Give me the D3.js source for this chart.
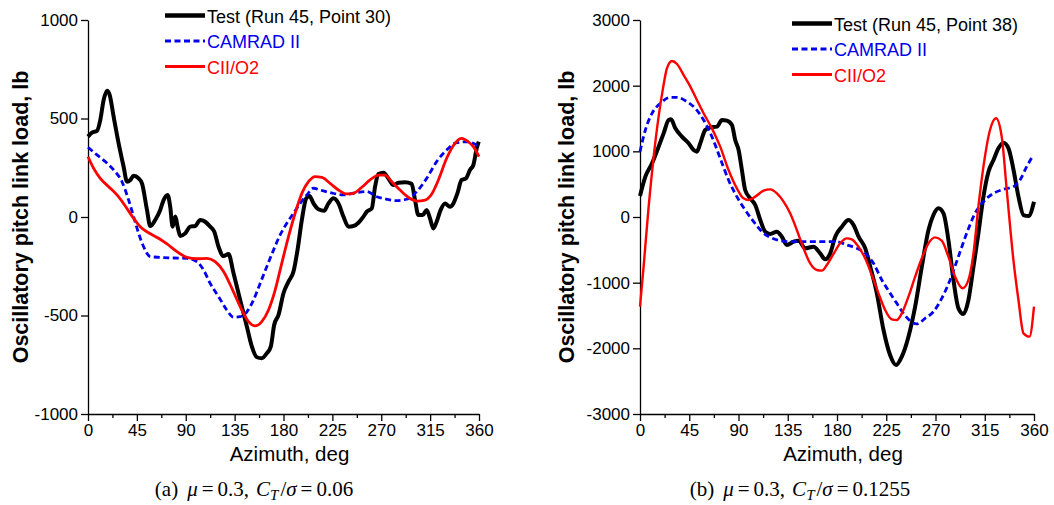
<!DOCTYPE html>
<html>
<head>
<meta charset="utf-8">
<script src="https://cdn.jsdelivr.net/npm/d3@7"></script>
<style>
  body { margin: 0; background: #fff; }
  svg { display: block; }
</style>
</head>
<body>
<div id="chart"></div>
<script>
// azimuth ticks shared by both panels
const azTicks = [0, 45, 90, 135, 180, 225, 270, 315, 360];

// panel (a): mu = 0.3, CT/sigma = 0.06  -- [azimuth, load]
const testA = [[0,408],[3.7,428],[8.3,437],[11.3,492],[14.4,594],[17.5,641],[20,619],[23.6,509],[28.2,374],[32.8,255],[35.9,179],[39,188],[42,210],[46.6,196],[49.7,171],[54.3,36],[57.3,-46],[61.9,-15],[66.5,36],[69.6,86],[73.3,112],[75.7,52],[77.9,-49],[80.4,2],[82.5,-49],[84.9,-96],[89.5,-83],[94.1,-49],[98.7,-46],[103.3,-15],[107.9,-24],[112.5,-49],[116.2,-74],[120.2,-151],[124.8,-198],[129.4,-188],[134,-286],[140.1,-421],[146.3,-557],[150.9,-658],[155.5,-712],[160,-717],[164.6,-692],[168.3,-658],[171.4,-548],[175.4,-497],[180,-387],[184.6,-328],[189.2,-277],[192.9,-168],[196.9,-15],[200.9,95],[203.9,107],[207.6,69],[212.2,39],[217.4,32],[221.4,69],[226,95],[230.6,69],[235.2,2],[239.8,-49],[244.4,-46],[249,-29],[253.6,2],[256.7,27],[261.3,44],[264.3,154],[267.4,218],[272,225],[276.6,196],[281.2,162],[285.8,174],[291.9,176],[298,168],[301.1,86],[304.2,10],[308.2,10],[311.8,36],[314.9,-7],[318,-58],[321,-24],[324.7,36],[328.7,69],[333.3,52],[336.4,69],[340.1,120],[344,188],[348,196],[351.7,239],[354.8,264],[357.9,349],[359.7,382]];
const camradA = [[0,354],[8.3,315],[16,281],[23.6,239],[31.3,179],[37.4,86],[42,2],[46.6,-83],[51.2,-151],[57.3,-201],[66.5,-205],[78.8,-208],[91,-210],[100.3,-227],[106.4,-269],[112.5,-337],[120.2,-404],[127.8,-472],[134,-509],[140.1,-506],[146.3,-481],[152.4,-421],[158.5,-337],[164.6,-252],[170.8,-168],[176.9,-91],[183,-32],[189.2,19],[195.3,69],[201.5,112],[207.6,146],[213.7,137],[222.9,124],[235.2,112],[247.5,124],[256.7,129],[265.9,103],[275.1,90],[284.3,83],[293.5,90],[302.7,129],[311.8,196],[321,281],[330.2,340],[339.4,377],[348.7,382],[354.8,374],[359.7,357]];
const ciiA = [[0,306],[5.2,247],[11.3,196],[19,154],[26.7,112],[34.3,56],[42,-7],[48.1,-49],[55.8,-80],[65,-108],[72.7,-137],[81.9,-176],[91,-205],[100.3,-212],[109.5,-210],[117.1,-227],[124.8,-277],[132.5,-362],[140.1,-455],[147.8,-531],[153.9,-553],[160,-531],[166.2,-472],[172.3,-371],[178.4,-235],[184.6,-100],[190.7,19],[196.9,120],[203,179],[209.1,205],[215.3,201],[222.9,171],[230.6,137],[238.3,117],[244.4,120],[252.1,151],[259.7,188],[267.4,213],[273.5,213],[279.7,179],[287.3,137],[295,100],[302.7,81],[310.3,86],[316.5,117],[322.6,188],[330.2,298],[337.9,374],[344,399],[350.1,382],[354.8,357],[360,306]];

// panel (b): mu = 0.3, CT/sigma = 0.1255
const testB = [[0,320],[4.9,614],[11,817],[17,1071],[21.6,1274],[26.2,1477],[28.3,1487],[32.3,1350],[38.3,1223],[44.4,1122],[49,1020],[52,995],[55.1,1122],[59.6,1325],[64.2,1365],[70.3,1376],[74.9,1477],[79.4,1467],[84,1401],[87,1173],[90.1,1020],[93.1,716],[96.1,411],[100.7,284],[105.3,183],[109.9,-46],[114.4,-223],[119,-259],[125.1,-223],[129.6,-300],[134.2,-426],[140.3,-376],[144.9,-360],[151,-477],[158.5,-452],[164.6,-553],[169.2,-645],[173.8,-553],[178.4,-300],[184.5,-147],[190.5,-46],[195.1,-122],[199.7,-300],[205.8,-477],[210.4,-756],[216.4,-1162],[222.5,-1721],[228.5,-2102],[234,-2254],[239.2,-2127],[245.3,-1822],[251.4,-1365],[257.5,-756],[263.6,-198],[268.1,30],[272.7,132],[277.3,56],[281.8,-350],[286.4,-959],[291,-1391],[295.5,-1477],[300.1,-1264],[304.7,-756],[309.2,-249],[313.8,310],[318.4,690],[323,868],[327.5,1046],[332.1,1132],[336.7,1046],[341.3,716],[345.8,310],[350.4,30],[355,15],[360,234]];
const camradB = [[0,995],[4.9,1325],[11,1579],[18.6,1731],[27.7,1822],[33.8,1822],[42.9,1756],[50.5,1655],[58.1,1477],[65.7,1223],[73.3,893],[80.9,563],[88.5,310],[96.1,107],[103.8,-71],[111.4,-223],[119,-310],[128.1,-360],[137.3,-376],[149.4,-376],[164.6,-376],[179.8,-376],[189,-426],[198.1,-477],[205.7,-553],[213.3,-706],[221,-959],[228.6,-1162],[234.6,-1315],[240.7,-1467],[246.8,-1579],[252.9,-1629],[260.5,-1543],[268.1,-1442],[275.7,-1239],[283.3,-959],[290.9,-604],[298.5,-249],[306.1,56],[313.8,234],[322.9,360],[332.1,421],[341.2,462],[347.2,563],[353.3,766],[359.4,944]];
const ciiB = [[0,-1365],[3.3,-756],[7.9,157],[12.5,919],[17,1528],[21,1959],[24.6,2264],[29.2,2376],[33.8,2330],[39.9,2162],[46,1985],[52,1782],[58.1,1579],[65.7,1350],[73.3,1071],[80.9,716],[88.5,437],[94.6,284],[99.2,259],[105.3,310],[112.9,401],[119,421],[125.1,360],[131.2,234],[137.2,56],[143.3,-198],[149.4,-477],[155.5,-706],[161.6,-807],[166.2,-817],[170.7,-731],[176.8,-563],[182.9,-401],[189,-325],[193.5,-340],[199.6,-452],[205.7,-629],[211.8,-883],[217.9,-1162],[224,-1416],[230,-1558],[234.6,-1569],[239.2,-1467],[245.3,-1213],[251.4,-909],[257.5,-629],[263.6,-401],[269.6,-310],[275.7,-360],[281.8,-604],[287.9,-909],[294.9,-1086],[300.1,-959],[304.7,-553],[309.2,157],[313.8,766],[319.8,1325],[325.3,1503],[330.5,1223],[335.1,411],[341.2,-655],[345.8,-1264],[350.4,-1772],[355.9,-1822],[360,-1365]];

const yTicksA = [-1000, -500, 0, 500, 1000];
const yTicksB = [-3000, -2000, -1000, 0, 1000, 2000, 3000];
const seriesNames = ["Test (Run 45, Point 30)", "Test (Run 45, Point 38)", "CAMRAD II", "CII/O2"];

const W = 1054, H = 505;
const svg = d3.select("#chart").append("svg").attr("width", W).attr("height", H);

const sans = "Liberation Sans, Arial, sans-serif";
const serif = "Liberation Serif, Times New Roman, serif";

const styles = {
  test:   { color: "#000000", width: 4,   dash: null },
  camrad: { color: "#0000ee", width: 2.8, dash: "6,3.5" },
  cii:    { color: "#ff0000", width: 2.8, dash: null }
};

function drawPanel(p) {
  const x = d3.scaleLinear().domain([0, 360]).range([p.left, p.right]);
  const y = d3.scaleLinear().domain(p.yDomain).range([p.bottom, p.top]);
  const g = svg.append("g");

  // x axis with minor ticks
  const minor = d3.range(22.5, 360, 45);
  g.append("g")
    .attr("transform", `translate(0,${p.bottom})`)
    .call(d3.axisBottom(x).tickValues(minor).tickSize(4).tickFormat(""))
    .call(a => a.select(".domain").remove());
  const xa = g.append("g")
    .attr("transform", `translate(0,${p.bottom})`)
    .call(d3.axisBottom(x).tickValues(azTicks).tickSize(7).tickPadding(3).tickSizeOuter(0).tickFormat(d => String(d)));
  xa.selectAll("text").attr("font-size", 17).attr("font-family", sans).attr("fill", "#000");

  const ya = g.append("g")
    .attr("transform", `translate(${p.left},0)`)
    .call(d3.axisLeft(y).tickValues(p.yTicks).tickSize(7).tickPadding(3).tickSizeOuter(0).tickFormat(d => String(d)));
  ya.selectAll("text").attr("font-size", 17).attr("font-family", sans).attr("fill", "#000");
  g.selectAll(".domain, .tick line").attr("stroke", "#000").attr("stroke-width", 1.3);

  // axis titles
  g.append("text")
    .attr("x", (p.left + p.right) / 2 + 6).attr("y", 461)
    .attr("text-anchor", "middle")
    .attr("font-family", sans).attr("font-size", 20.5)
    .text("Azimuth, deg");
  g.append("text")
    .attr("transform", `translate(${p.yTitleX},${(p.top + p.bottom) / 2}) rotate(-90)`)
    .attr("text-anchor", "middle")
    .attr("font-family", sans).attr("font-size", 21.5).attr("font-weight", "bold")
    .text("Oscillatory pitch link load, lb");

  // curves
  const line = d3.line().x(d => x(d[0])).y(d => y(d[1])).curve(d3.curveMonotoneX);
  p.series.forEach(s => {
    const st = styles[s.key];
    g.append("path").datum(s.data)
      .attr("d", line)
      .attr("fill", "none")
      .attr("stroke", st.color)
      .attr("stroke-width", s.key === "cii" ? p.ciiWidth : st.width)
      .attr("stroke-dasharray", st.dash)
      .attr("stroke-linejoin", "round");
  });

  // legend
  p.series.forEach((s, i) => {
    const st = styles[s.key];
    const ly = p.legendY + i * 25.5;
    g.append("line")
      .attr("x1", p.legendX).attr("x2", p.legendX + 40)
      .attr("y1", ly).attr("y2", ly)
      .attr("stroke", st.color)
      .attr("stroke-width", s.key === "test" ? 4.5 : 3)
      .attr("stroke-dasharray", st.dash);
    g.append("text")
      .attr("x", p.legendX + 42).attr("y", ly + 7)
      .attr("font-family", sans).attr("font-size", 18)
      .attr("fill", st.color)
      .text(s.name);
  });

  // caption, LaTeX-like spacing
  const cap = g.append("text")
    .attr("x", p.capX).attr("y", 496)
    .attr("text-anchor", "middle")
    .attr("font-family", serif).attr("font-size", 21);
  cap.append("tspan").text(p.capLabel);
  cap.append("tspan").attr("dx", 9).attr("font-style", "italic").text("μ");
  cap.append("tspan").attr("dx", 4).text("=");
  cap.append("tspan").attr("dx", 4).text("0.3,");
  cap.append("tspan").attr("dx", 7).attr("font-style", "italic").text("C");
  cap.append("tspan").attr("font-style", "italic").attr("font-size", 15).attr("dy", 4).text("T");
  cap.append("tspan").attr("dy", -4).attr("dx", 2).text("/");
  cap.append("tspan").attr("font-style", "italic").text("σ");
  cap.append("tspan").attr("dx", 4).text("=");
  cap.append("tspan").attr("dx", 4).text(p.capValue);
}

drawPanel({
  left: 88, right: 479, top: 20, bottom: 414,
  yDomain: [-1000, 1000], yTicks: yTicksA, yTitleX: 28,
  legendX: 165, legendY: 15.5, ciiWidth: 2.8,
  capX: 254, capLabel: "(a)", capValue: "0.06",
  series: [
    { key: "test", name: seriesNames[0], data: testA },
    { key: "camrad", name: seriesNames[2], data: camradA },
    { key: "cii", name: seriesNames[3], data: ciiA }
  ]
});

drawPanel({
  left: 640, right: 1034, top: 20, bottom: 414,
  yDomain: [-3000, 3000], yTicks: yTicksB, yTitleX: 574,
  legendX: 792, legendY: 23.5, ciiWidth: 2.4,
  capX: 800, capLabel: "(b)", capValue: "0.1255",
  series: [
    { key: "test", name: seriesNames[1], data: testB },
    { key: "camrad", name: seriesNames[2], data: camradB },
    { key: "cii", name: seriesNames[3], data: ciiB }
  ]
});
</script>
</body>
</html>
